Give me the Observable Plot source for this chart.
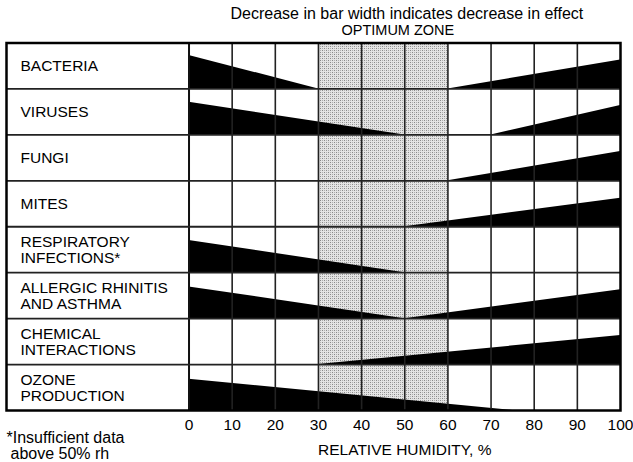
<!DOCTYPE html>
<html>
<head>
<meta charset="utf-8">
<script src="https://cdn.jsdelivr.net/npm/d3@7"></script>
<script src="https://cdn.jsdelivr.net/npm/@observablehq/plot@0.6"></script>
<style>
  html, body { margin: 0; padding: 0; background: #fff; }
</style>
</head>
<body>
<div id="chart"></div>
<script>
// ---- data ----
const categories = [
  "BACTERIA",
  "VIRUSES",
  "FUNGI",
  "MITES",
  "RESPIRATORY\nINFECTIONS*",
  "ALLERGIC RHINITIS\nAND ASTHMA",
  "CHEMICAL\nINTERACTIONS",
  "OZONE\nPRODUCTION"
];
// Each segment: row index, start/end humidity, relative bar width at start/end
const segRow = [0, 0, 1, 1, 2, 3, 4, 5, 5, 6, 7];
const segX0  = [0, 60, 0, 70, 60, 50, 0, 0, 50, 30, 0];
const segX1  = [30, 100, 50, 100, 100, 100, 50, 50, 100, 100, 75];
const segH0  = [0.73, 0, 0.71, 0, 0, 0, 0.70, 0.69, 0, 0, 0.68];
const segH1  = [0, 0.63, 0, 0.64, 0.64, 0.62, 0, 0, 0.63, 0.63, 0];
const optimumZone = [30, 60];
const xTicks = [0, 10, 20, 30, 40, 50, 60, 70, 80, 90, 100];
const labelColumn = -42.3; // label column extent in humidity units
const titleText = "Decrease in bar width indicates decrease in effect";
const zoneText = "OPTIMUM ZONE";
const xLabel = "RELATIVE HUMIDITY, %";
const footnote1 = "*Insufficient data";
const footnote2 = "above 50% rh";

// ---- derived tables ----
const nRows = categories.length;
const areaPts = [];
segRow.forEach((r, k) => {
  areaPts.push({seg: k, x: segX0[k], y1: r + 1, y2: r + 1 - segH0[k]});
  areaPts.push({seg: k, x: segX1[k], y1: r + 1, y2: r + 1 - segH1[k]});
});
const labels = categories.map((c, i) => ({label: c, y: i + 0.5}));

const font = "Liberation Sans, Arial, Helvetica, sans-serif";

const chart = Plot.plot({
  width: 633,
  height: 462,
  marginLeft: 6,
  marginRight: 13,
  marginTop: 42.5,
  marginBottom: 52,
  style: {fontFamily: font, fontSize: "15px", background: "#fff", color: "#000"},
  x: {domain: [labelColumn, 100]},
  y: {domain: [0, nRows], reverse: true, axis: null},
  marks: [
    Plot.rect([optimumZone], {x1: d => d[0], x2: d => d[1], y1: 0, y2: nRows, fill: "url(#stipple)"}),
    Plot.areaY(areaPts, {x: "x", y1: "y1", y2: "y2", z: "seg", fill: "#000"}),
    Plot.ruleX(xTicks.slice(1, -1), {y1: 0, y2: nRows, stroke: "#222", strokeWidth: 1.6}),
    Plot.ruleX([0], {y1: 0, y2: nRows, stroke: "#111", strokeWidth: 2}),
    Plot.ruleY(d3.range(1, nRows), {x1: labelColumn, x2: 100, stroke: "#222", strokeWidth: 1.8}),
    Plot.frame({stroke: "#000", strokeWidth: 2.5}),
    Plot.text(labels, {y: "y", text: "label", frameAnchor: "left", dx: 14, textAnchor: "start",
      lineAnchor: "middle", lineHeight: 1.04, fontSize: 15.5, fill: "#000"}),
    Plot.axisX({ticks: xTicks, tickSize: 0, tickPadding: 8, fontSize: 15.5, label: null, tickFormat: d => String(d)}),
    Plot.text([titleText], {x: 50.5, frameAnchor: "top", dy: -29, lineAnchor: "middle", fontSize: 16, text: d => d, fill: "#000"}),
    Plot.text([zoneText], {x: 48.4, frameAnchor: "top", dy: -12.5, lineAnchor: "middle", fontSize: 14.5, text: d => d, fill: "#000"}),
    Plot.text([xLabel], {x: 50, frameAnchor: "bottom", dy: 40, lineAnchor: "middle", fontSize: 15.5, text: d => d, fill: "#000"}),
    Plot.text([footnote1], {frameAnchor: "bottom-left", dy: 27, textAnchor: "start", lineAnchor: "middle", fontSize: 16, text: d => d, fill: "#000"}),
    Plot.text([footnote2], {frameAnchor: "bottom-left", dx: 4, dy: 43, textAnchor: "start", lineAnchor: "middle", fontSize: 16, text: d => d, fill: "#000"})
  ]
});

// stipple pattern for the optimum zone
const svg = d3.select(chart);
const defs = svg.insert("defs", ":first-child");
const pat = defs.append("pattern").attr("id", "stipple")
  .attr("patternUnits", "userSpaceOnUse").attr("width", 4).attr("height", 4);
pat.append("rect").attr("width", 4).attr("height", 4).attr("fill", "#e4e4e4");
pat.append("rect").attr("x", 0).attr("y", 0).attr("width", 1).attr("height", 1).attr("fill", "#8a8a8a");
pat.append("rect").attr("x", 2).attr("y", 2).attr("width", 1).attr("height", 1).attr("fill", "#8a8a8a");
pat.append("rect").attr("x", 2).attr("y", 0).attr("width", 1).attr("height", 1).attr("fill", "#b0b0b0");
pat.append("rect").attr("x", 0).attr("y", 2).attr("width", 1).attr("height", 1).attr("fill", "#b0b0b0");

document.getElementById("chart").appendChild(chart);
</script>
</body>
</html>
